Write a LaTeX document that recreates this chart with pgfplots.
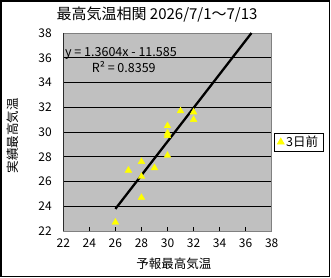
\documentclass[border=0pt]{standalone}
\usepackage{fontspec}
\setmainfont{Noto Sans CJK JP}
\usepackage{pgfplots}
\pgfplotsset{compat=1.18}
\definecolor{plotbg}{HTML}{C0C0C0}
\definecolor{plotborder}{HTML}{808080}
\definecolor{mkyellow}{HTML}{FFFF00}
\begin{document}
\begin{tikzpicture}
\begin{axis}[
  at={(0,0)}, anchor=south west,
  scale only axis, width=208.4bp, height=198bp,
  xmin=22, xmax=38, ymin=22, ymax=38,
  xtick={22,24,...,38}, ytick={22,24,...,38},
  /pgf/number format/assume math mode=true,
  font=\fontsize{12bp}{13bp}\selectfont,
  axis background/.style={fill=plotbg},
  axis line style={draw=plotborder, line width=0.8bp},
  ymajorgrids, grid style={black, line width=0.9bp},
  xtick pos=bottom, tick align=inside, major tick length=4bp,
  xtick style={black, line width=0.8bp},
  ytick style={draw=none},
  xticklabel style={yshift=-4bp},
  yticklabel style={xshift=-8bp},
  title={最高気温相関 2026/7/1～7/13},
  title style={at={(axis description cs:0.45,1)}, anchor=base, yshift=8bp, font=\fontsize{15bp}{16bp}\selectfont},
  xlabel={予報最高気温},
  xlabel style={at={(axis description cs:0.53,0)}, anchor=base, yshift=-37bp, font=\fontsize{12.5bp}{14bp}\selectfont},
  ylabel={実績最高気温},
  ylabel style={at={(axis description cs:-0.24,0.48)}, anchor=center, font=\fontsize{12.5bp}{14bp}\selectfont},
  legend style={at={(axis description cs:1.011,0.4965)}, anchor=north west, draw=black, fill=white, line width=0.8bp,
    font=\fontsize{12.5bp}{13bp}\selectfont, inner xsep=3bp, inner ysep=1bp},
  legend cell align=left,
]
\addplot[only marks, mark=triangle*, mark size=3.9bp, color=mkyellow, mark options={fill=mkyellow, draw=mkyellow}] coordinates {
  (26,22.7) (28,24.7) (28,26.4) (27,26.9) (28,27.6) (29,27.1) (30,28.1)
  (30,29.7) (30,29.9) (30,30.5) (31,31.7) (32,31.6) (32,31.0)
};
\addlegendentry{3日前}
\addplot[black, line width=2.3bp, forget plot] coordinates {(26,23.7854) (36.4489,38)};
\draw[black, line width=0.9bp] (rel axis cs:0,1) -- (rel axis cs:0,0) -- (rel axis cs:1,0);
\node[anchor=base west, inner sep=0pt, font=\fontsize{12.5bp}{13bp}\selectfont] at (axis cs:22.13,36.13) {y = 1.3604x - 11.585};
\node[anchor=base west, inner sep=0pt, font=\fontsize{12.5bp}{13bp}\selectfont] at (axis cs:24.18,34.84) {R² = 0.8359};
\end{axis}
\pgfresetboundingbox
\useasboundingbox (-63.3bp,-47bp) rectangle (267.7bp,231bp);
\draw[line width=1.2bp] (-62.3bp,-45.5bp) rectangle (266.2bp,230bp);
\end{tikzpicture}
\end{document}
